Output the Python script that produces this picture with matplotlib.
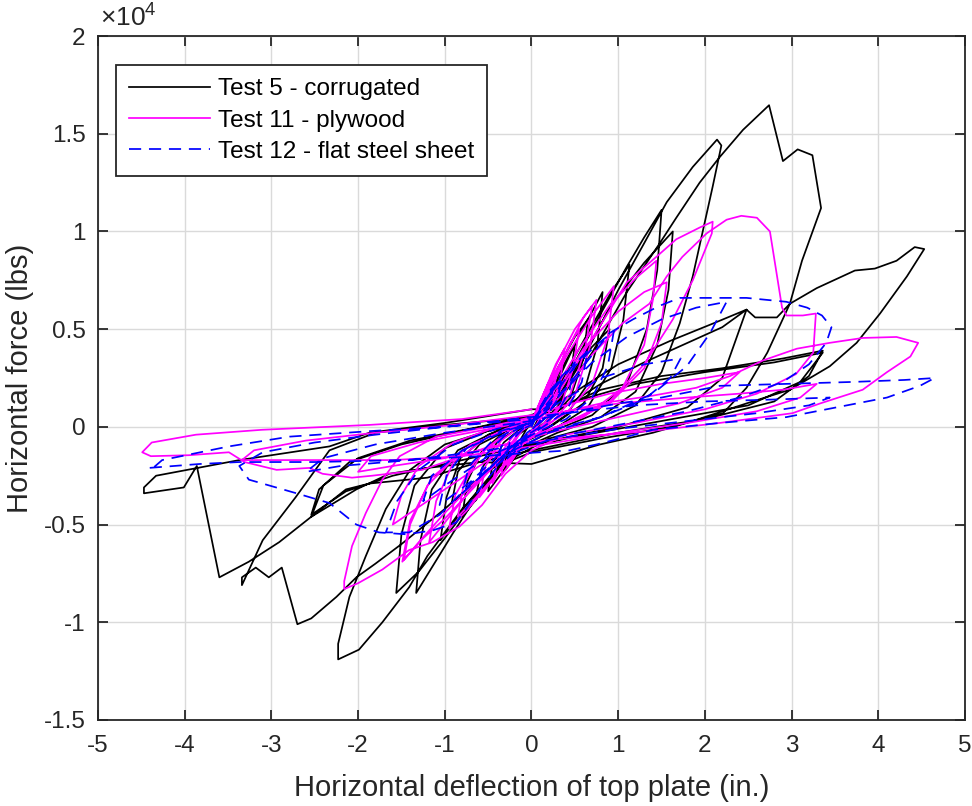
import numpy as np
import matplotlib
matplotlib.use("Agg")
import matplotlib.pyplot as plt
from matplotlib.ticker import FuncFormatter

plt.rcParams['font.family'] = ['Liberation Sans', 'DejaVu Sans']
plt.rcParams['mathtext.fontset'] = 'custom'
plt.rcParams['mathtext.rm'] = 'Liberation Sans'
plt.rcParams['axes.unicode_minus'] = False

# hysteresis traces: (deflection in., force lbs)
test5_pts = [
    # small cycles
    (0.00, 0), (0.08, 900), (0.15, 1600), (0.12, 800), (0.03, 0), (-0.07, -700), (-0.15, -1300),
    (-0.12, -600), (-0.03, 100),
    (0.10, 1100), (0.20, 1900), (0.30, 2600), (0.26, 1500), (0.18, 600), (0.05, -100), (-0.10, -900),
    (-0.20, -1600), (-0.30, -2200), (-0.26, -1200), (-0.15, -400), (0.00, 100),
    (0.10, 800), (0.25, 2200), (0.40, 3400), (0.50, 4200), (0.45, 2600), (0.33, 1200), (0.15, 200),
    (-0.05, -500), (-0.20, -1400), (-0.35, -2400), (-0.50, -3300), (-0.45, -1900), (-0.32, -800),
    (-0.10, 0), (0.00, 200),
    (0.12, 1200), (0.30, 3000), (0.50, 4600), (0.65, 5500), (0.60, 3500), (0.45, 1500), (0.20, 300),
    (-0.10, -600), (-0.35, -1900), (-0.55, -3100), (-0.65, -3800), (-0.58, -2200), (-0.40, -800),
    (-0.10, 100), (0.00, 200),
    (0.20, 1200), (0.45, 2800), (0.70, 4100), (0.90, 5000), (0.82, 3000), (0.60, 1200), (0.25, 100),
    (-0.15, -900), (-0.50, -2300), (-0.75, -3300), (-0.92, -3900), (-0.85, -2300), (-0.60, -900),
    (-0.20, 0), (0.00, 200),
    (0.15, 1000), (0.35, 2800), (0.55, 4700), (0.70, 5900), (0.82, 6900), (0.76, 4200), (0.62, 2000),
    (0.40, 600), (0.10, -300), (-0.15, -900), (-0.40, -2200), (-0.60, -3500), (-0.80, -4600),
    (-0.74, -2800), (-0.58, -1300), (-0.30, -200), (0.00, 300),
    (0.20, 1100), (0.45, 3200), (0.70, 5200), (0.92, 6900), (1.13, 8300), (1.06, 5500), (0.92, 3000),
    (0.65, 1000), (0.30, 0), (-0.10, -800), (-0.40, -2100), (-0.70, -3700), (-0.90, -4900),
    (-1.05, -5800), (-0.98, -3600), (-0.82, -1600), (-0.50, -400), (0.00, 300),
    # medium cycles
    (0.20, 1000), (0.50, 3300), (0.80, 5800), (1.10, 8200), (1.30, 9700), (1.50, 11100), (1.45, 8000),
    (1.33, 5000), (1.10, 2200), (0.70, 600), (0.20, -300), (-0.20, -1200), (-0.55, -3000),
    (-0.90, -5400), (-1.15, -7200), (-1.33, -8500), (-1.28, -5800), (-1.15, -3200), (-0.85, -1200),
    (-0.40, -200), (0.00, 300),
    (0.25, 1100), (0.60, 3700), (0.95, 6400), (1.30, 8400), (1.63, 10000), (1.58, 7000), (1.45, 4200),
    (1.20, 1800), (0.80, 500), (0.30, -300), (-0.20, -1300), (-0.60, -3300), (-1.00, -5700),
    (-1.30, -7400), (-1.56, -8500), (-1.50, -5500), (-1.35, -3000), (-1.00, -1100), (-0.50, -200),
    (0.00, 300),
    # large cycles
    (0.25, 1000), (0.60, 3500), (1.00, 7000), (1.30, 9400), (1.56, 11500), (1.86, 13300),
    (2.14, 14700), (2.19, 14400), (2.09, 12300), (1.97, 9900), (1.86, 7700), (1.71, 5300),
    (1.50, 2800), (1.20, 1100), (0.70, 0), (0.20, -600), (-0.30, -1800), (-0.80, -4200),
    (-1.20, -6600), (-1.41, -8200), (-1.72, -10000), (-1.99, -11400), (-2.23, -11900),
    (-2.23, -11100), (-2.10, -8700), (-1.91, -6600), (-1.68, -4200), (-1.40, -2200), (-1.00, -900),
    (-0.50, -200), (0.00, 300),
    (0.30, 1200), (0.70, 3800), (1.10, 6900), (1.48, 9400), (1.67, 10700), (1.94, 12500),
    (2.17, 13800), (2.44, 15200), (2.74, 16460), (2.90, 13600), (3.07, 14200), (3.24, 13900),
    (3.34, 11200), (3.12, 8500), (2.98, 6300), (2.72, 3800), (2.48, 2000), (2.21, 700), (1.60, 0),
    (0.80, -600), (0.00, -1300), (-0.50, -2200), (-1.00, -4200), (-1.50, -6000), (-1.80, -7000),
    (-2.02, -7700), (-2.25, -8700), (-2.54, -9800), (-2.70, -10100), (-2.88, -7200), (-3.03, -7700),
    (-3.18, -7200), (-3.34, -7700), (-3.34, -8100), (-3.10, -5800), (-2.72, -3600), (-2.33, -1200),
    (-1.80, -300), (-1.00, 100), (0.00, 500),
    # degraded cycles
    (0.30, 800), (0.80, 2200), (1.30, 3300), (1.80, 4300), (2.20, 5100), (2.48, 6000), (2.58, 5600),
    (2.83, 5600), (2.98, 6300), (3.29, 7100), (3.73, 8000), (3.96, 8100), (4.21, 8500), (4.42, 9200),
    (4.53, 9100), (4.33, 7700), (4.02, 5800), (3.75, 4300), (3.44, 3100), (3.25, 2600), (2.98, 1900),
    (2.48, 1200), (1.79, 200), (1.40, -300), (0.79, -900), (0.00, -1900), (-0.60, -1800),
    (-1.20, -2100), (-1.64, -2400), (-2.02, -3200), (-2.54, -4600), (-2.91, -5900), (-3.26, -6900),
    (-3.60, -7700), (-3.86, -2000), (-4.01, -3100), (-4.47, -3400), (-4.47, -3100), (-4.33, -2500),
    (-3.37, -1700), (-2.33, -1000), (-1.87, -300), (-1.00, 200), (0.00, 900),
    (0.30, 900), (0.80, 1900), (1.50, 2600), (2.20, 3000), (2.90, 3500), (3.36, 3900), (3.20, 2600),
    (2.80, 1300), (2.00, 400), (1.00, -300), (0.00, -1200), (-0.60, -1800), (-1.20, -2600),
    (-1.87, -2900), (-2.14, -3200), (-2.54, -4600), (-2.40, -3000), (-2.00, -1600), (-1.40, -700),
    (-0.60, 0), (0.00, 600),
    (0.40, 1500), (1.00, 3200), (1.60, 4400), (2.10, 5300), (2.48, 6000), (2.20, 2500), (1.80, 1000),
    (1.00, 0), (0.00, -900), (-0.80, -1700), (-1.60, -2500), (-2.14, -3300), (-2.54, -4500),
    (-2.45, -3200), (-2.10, -1800), (-1.50, -900), (-0.80, -200), (0.00, 500),
    (0.50, 1300), (1.20, 2200), (2.00, 2800), (2.80, 3300), (3.36, 3800), (3.10, 2300), (2.50, 1100),
    (1.50, 300), (0.50, -500), (0.00, -1000),
]

test11_pts = [
    (0.00, 0), (0.10, 1300), (0.20, 2300), (0.30, 3000), (0.25, 1700), (0.12, 500), (0.00, -200),
    (-0.12, -1000), (-0.25, -1900), (-0.35, -2500), (-0.30, -1300), (-0.15, -300), (0.00, 200),
    (0.08, 1000), (0.18, 2000), (0.22, 2400), (0.17, 1100), (0.05, 0), (-0.10, -800), (-0.22, -1600),
    (-0.28, -2000), (-0.22, -900), (-0.08, 0), (0.00, 200),
    (0.15, 1800), (0.28, 3200), (0.38, 4000), (0.33, 2300), (0.20, 700), (0.00, -300), (-0.20, -1200),
    (-0.38, -2300), (-0.45, -2900), (-0.38, -1500), (-0.20, -400), (0.00, 100),
    (0.12, 1200), (0.30, 3000), (0.45, 4300), (0.55, 5000), (0.48, 3000), (0.35, 1200), (0.15, 200),
    (-0.10, -700), (-0.30, -1800), (-0.48, -2900), (-0.60, -3600), (-0.53, -2000), (-0.35, -700),
    (-0.10, 100), (0.00, 300),
    (0.10, 1300), (0.30, 3300), (0.50, 5000), (0.70, 6200), (0.62, 4000), (0.45, 1700), (0.20, 300),
    (-0.10, -700), (-0.40, -2400), (-0.70, -3900), (-0.85, -4600), (-0.78, -2900), (-0.55, -1200),
    (-0.20, 0), (0.00, 300),
    (0.20, 2000), (0.40, 3800), (0.60, 5600), (0.75, 6500), (0.68, 4200), (0.50, 1600), (0.25, 300),
    (-0.10, -900), (-0.45, -2700), (-0.75, -4300), (-0.95, -5200), (-0.88, -3500), (-0.62, -1500),
    (-0.25, -200), (0.00, 300),
    (0.15, 1300), (0.40, 3600), (0.70, 5700), (0.95, 7200), (0.88, 4600), (0.70, 2200), (0.40, 700),
    (0.05, -200), (-0.30, -1200), (-0.70, -3200), (-1.00, -4900), (-1.18, -5900), (-1.10, -3800),
    (-0.90, -1800), (-0.50, -500), (0.00, 300),
    (0.20, 1400), (0.55, 4000), (0.90, 6200), (1.20, 7600), (1.44, 8500), (1.40, 6500), (1.30, 4200),
    (1.05, 2000), (0.60, 500), (0.10, -300), (-0.40, -1400), (-0.90, -2900), (-1.30, -4100),
    (-1.60, -5000), (-1.50, -3500), (-1.30, -2000), (-0.90, -800), (-0.40, 0), (0.00, 400),
    (0.25, 1500), (0.60, 4000), (1.00, 5900), (1.30, 6900), (1.56, 7400), (1.50, 5300), (1.30, 3000),
    (0.90, 1200), (0.40, 200), (-0.20, -900), (-0.60, -2800), (-1.00, -4700), (-1.25, -5700),
    (-1.49, -6900), (-1.40, -4800), (-1.15, -2600), (-0.70, -900), (-0.20, 0), (0.00, 300),
    (0.25, 1300), (0.60, 3800), (1.10, 7400), (1.44, 8700), (1.67, 9600), (1.94, 10200),
    (2.09, 10500), (2.08, 9900), (1.97, 8700), (1.86, 7500), (1.63, 5500), (1.30, 3200), (0.90, 1300),
    (0.40, 200), (-0.20, -900), (-0.60, -2600), (-1.00, -4400), (-1.30, -5900), (-1.47, -6800),
    (-1.40, -5000), (-1.20, -3000), (-0.80, -1200), (-0.30, -100), (0.00, 300),
    (0.30, 1400), (0.70, 3700), (1.05, 5300), (1.36, 6300), (1.56, 7700), (1.74, 8700), (2.02, 9900),
    (2.25, 10600), (2.42, 10800), (2.60, 10700), (2.75, 10000), (2.89, 6100), (2.94, 5700),
    (3.13, 5700), (3.28, 5800), (3.25, 3800), (3.05, 2700), (2.60, 1700), (2.00, 900), (1.20, 200),
    (0.40, -400), (0.00, -1200), (-0.30, -2400), (-0.57, -4000), (-0.83, -5100), (-1.14, -5900),
    (-1.41, -6300), (-1.72, -7300), (-2.00, -8000), (-2.16, -8300), (-2.16, -7900), (-2.07, -6100),
    (-1.91, -4400), (-1.72, -2700), (-1.52, -1500), (-1.10, -500), (-0.50, 0), (0.00, 500),
    (0.30, 1000), (0.90, 1700), (1.50, 2200), (2.00, 2500), (2.40, 2800), (2.20, 2000), (1.70, 1200),
    (1.00, 500), (0.30, -200), (-0.40, -1000), (-1.00, -1600), (-1.60, -2000), (-2.00, -2300),
    (-1.85, -1500), (-1.30, -800), (-0.60, -200), (0.00, 300),
    (0.40, 800), (1.00, 1200), (1.80, 1500), (2.40, 1700), (2.90, 1900), (3.29, 2200), (3.10, 1500),
    (2.60, 800), (1.80, 200), (1.00, -300), (0.00, -1000), (-0.80, -1500), (-1.60, -1700),
    (-2.40, -1700), (-3.00, -1700), (-3.34, -1700), (-3.20, -1200), (-2.60, -700), (-1.80, -300),
    (-0.90, 100), (0.00, 600),
    (0.30, 700), (0.80, 1200), (1.40, 1600), (1.90, 2000), (2.29, 2600), (2.67, 3400), (3.06, 4000),
    (3.44, 4300), (3.82, 4550), (4.21, 4600), (4.46, 4300), (4.37, 3600), (4.10, 2800), (3.82, 1900),
    (3.33, 1200), (3.01, 700), (2.17, 200), (1.40, -200), (0.60, -500), (-0.48, -1000),
    (-1.26, -2200), (-1.84, -2500), (-2.07, -2600), (-2.41, -2400), (-2.56, -2100), (-2.94, -2200),
    (-3.31, -1800), (-3.49, -1300), (-3.95, -1450), (-4.39, -1500), (-4.49, -1300), (-4.38, -800),
    (-3.87, -400), (-3.11, -150), (-1.87, 100), (-0.80, 400), (0.00, 900),
]

test12_pts = [
    (0.00, 0), (0.08, 800), (0.18, 1600), (0.25, 2000), (0.20, 1000), (0.08, 200), (-0.05, -400),
    (-0.15, -1100), (-0.30, -1700), (-0.25, -800), (-0.10, -100), (0.00, 100),
    (0.10, 1000), (0.22, 1900), (0.35, 2500), (0.30, 1400), (0.15, 400), (-0.05, -300),
    (-0.22, -1200), (-0.40, -2000), (-0.35, -1000), (-0.15, -200), (0.00, 100),
    (0.15, 1300), (0.35, 2600), (0.50, 3300), (0.44, 1900), (0.30, 700), (0.10, 0), (-0.15, -700),
    (-0.40, -1800), (-0.60, -2600), (-0.52, -1400), (-0.30, -400), (0.00, 200),
    (0.20, 1600), (0.45, 3000), (0.65, 3900), (0.58, 2300), (0.40, 800), (0.10, -100),
    (-0.25, -1100), (-0.55, -2400), (-0.80, -3400), (-0.72, -2000), (-0.45, -700), (-0.10, 100),
    (0.00, 200),
    (0.20, 1300), (0.50, 3100), (0.75, 4200), (0.95, 4900), (0.88, 3100), (0.70, 1500), (0.40, 400),
    (0.05, -300), (-0.35, -1300), (-0.70, -2800), (-1.06, -4000), (-0.98, -2500), (-0.75, -1100),
    (-0.35, -200), (0.00, 200),
    (0.30, 1200), (0.80, 2500), (1.30, 3200), (1.72, 3500), (1.60, 2500), (1.30, 1400), (0.80, 500),
    (0.20, -200), (-0.50, -1500), (-1.00, -3000), (-1.25, -3800), (-1.15, -2500), (-0.80, -1200),
    (-0.30, -200), (0.00, 200),
    (0.30, 1500), (0.70, 3300), (1.10, 4600), (1.50, 5500), (1.90, 6100), (2.25, 6400), (2.06, 4800),
    (1.79, 3100), (1.40, 1700), (0.80, 500), (0.20, -300), (-0.30, -1400), (-0.70, -2900),
    (-1.06, -4500), (-1.41, -5400), (-1.68, -5400), (-1.55, -3800), (-1.30, -2200), (-0.90, -900),
    (-0.40, -100), (0.00, 300),
    (0.40, 2000), (0.90, 4800), (1.17, 5500), (1.48, 6200), (1.71, 6600), (2.09, 6600), (2.48, 6600),
    (2.94, 6400), (3.18, 6100), (3.35, 5700), (3.46, 5100), (3.40, 4300), (3.20, 3200), (2.90, 2300),
    (2.40, 1500), (1.80, 800), (1.00, 100), (0.30, -500), (-0.30, -1500), (-0.60, -3200),
    (-0.87, -4900), (-1.14, -5300), (-1.44, -5500), (-1.76, -5400), (-2.02, -5000), (-2.33, -3900),
    (-2.71, -3400), (-3.26, -2700), (-3.37, -2000), (-3.10, -1300), (-2.50, -800), (-1.80, -400),
    (-1.00, 0), (0.00, 500),
    (0.40, 700), (1.20, 1100), (2.00, 1300), (2.80, 1400), (3.44, 1500), (3.20, 1100), (2.60, 700),
    (1.80, 300), (1.00, -100), (0.30, -600), (-0.50, -1200), (-1.40, -1700), (-2.20, -2000),
    (-2.60, -2300), (-2.40, -1600), (-1.80, -900), (-1.00, -300), (0.00, 300),
    (0.40, 700), (1.00, 1200), (1.50, 1500), (2.17, 2100), (2.94, 2200), (3.71, 2300), (4.30, 2400),
    (4.65, 2500), (4.48, 2100), (4.10, 1500), (3.52, 1000), (2.94, 500), (2.17, 200), (1.40, -150),
    (1.02, -600), (0.75, -900), (0.44, -1200), (0.09, -1300), (-0.60, -1500), (-1.50, -1700),
    (-2.50, -1800), (-3.37, -1800), (-3.83, -1900), (-4.41, -2100), (-4.39, -2200), (-4.26, -1700),
    (-3.49, -1000), (-2.79, -500), (-1.80, -200), (-1.00, 0), (0.00, 400),
]

labels = ['Test 5 - corrugated', 'Test 11 - plywood', 'Test 12 - flat steel sheet']

x5, y5 = np.array(test5_pts).T
x11, y11 = np.array(test11_pts).T
x12, y12 = np.array(test12_pts).T

fig = plt.figure(figsize=(9.72, 8.06), dpi=100)
ax = fig.add_axes([0.1008, 0.1067, 0.892, 0.8486])

ax.plot(x5, y5, color='black', lw=1.25, label=labels[0])
ax.plot(x11, y11, color='#FF00FF', lw=1.25, label=labels[1])
ax.plot(x12, y12, color='#0000FF', lw=1.25, ls=(0, (7, 4.5)), label=labels[2])

ax.set_xlim(-5, 5)
ax.set_ylim(-15000, 20000)
ax.set_xticks(np.arange(-5, 6, 1))
ax.set_yticks(np.arange(-15000, 20001, 5000))
ax.yaxis.set_major_formatter(FuncFormatter(lambda v, p: '%g' % (v / 1e4)))

ax.grid(True, color='#DADADA', lw=1.0)
ax.set_axisbelow(True)
for s in ax.spines.values():
    s.set_color('#262626')
    s.set_linewidth(1.3)
ax.tick_params(direction='in', length=7, width=1.3, color='#262626',
               top=True, right=True, labelsize=17.5, labelcolor='#262626')
ax.tick_params(axis='x', pad=11)
ax.tick_params(axis='y', pad=9)

ax.set_xlabel('Horizontal deflection of top plate (in.)', fontsize=21, color='#262626', labelpad=12)
ax.set_ylabel('Horizontal force (lbs)', fontsize=21, color='#262626', labelpad=7)
ax.text(0.002, 1.006, r'$\mathregular{\times10^{4}}$', transform=ax.transAxes,
        fontsize=19, color='#262626', ha='left', va='bottom')

leg = ax.legend(loc='upper left', bbox_to_anchor=(0.0208, 0.9576), borderaxespad=0,
                fontsize=17.5, fancybox=False, framealpha=1, edgecolor='#262626',
                handlelength=3.3, handletextpad=0.33, labelspacing=0.38, borderpad=0.55)
leg.get_frame().set_linewidth(1.3)

fig.savefig('out.png', dpi=100)
